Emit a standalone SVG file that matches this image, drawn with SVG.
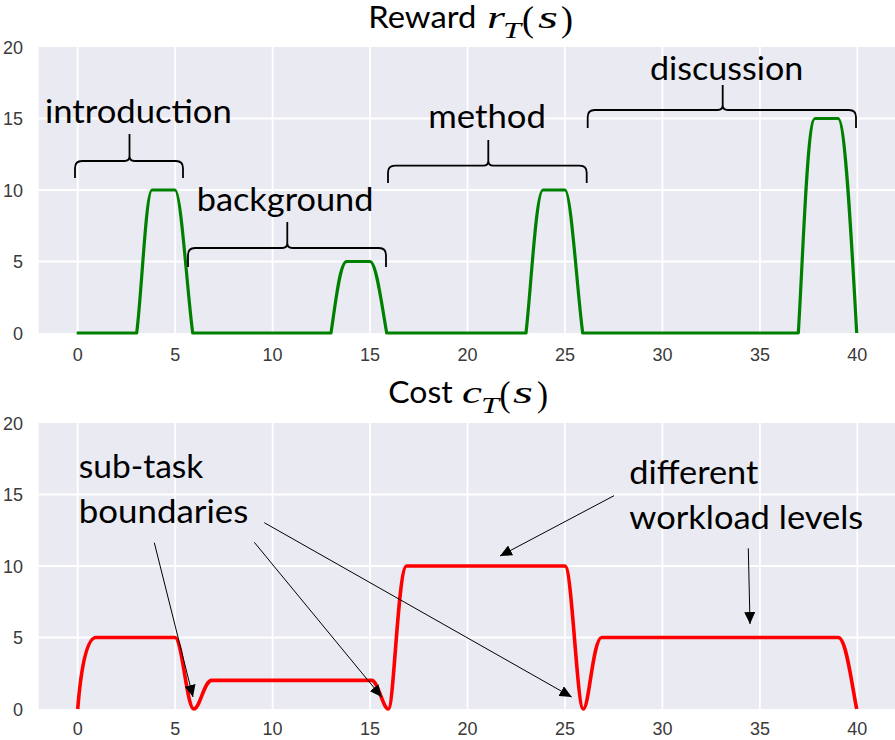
<svg xmlns="http://www.w3.org/2000/svg" width="895" height="740" viewBox="0 0 895 740">
<defs>
<style>
.bg{fill:#eaeaf2}
.grid line{stroke:#ffffff;stroke-width:1.8}
.tick{font-family:"Liberation Sans",Arial,sans-serif;font-size:18px;fill:#3a3a3a}
.ytick{text-anchor:end}
.xtick{text-anchor:middle}
.lbl{font-family:Lato,"Open Sans",sans-serif;font-size:33px;fill:#000}
.ttl{font-family:Lato,"Open Sans",sans-serif;font-size:30px;fill:#000}
.math{font-family:"Liberation Serif","Times New Roman",serif;font-style:italic;fill:#000}
.par{font-family:"Liberation Serif","Times New Roman",serif;fill:#000}
.brace{fill:none;stroke:#000;stroke-width:1.8}
.arrow{fill:none;stroke:#000;stroke-width:1}
.reward{fill:none;stroke:#008000;stroke-width:3.2;stroke-linejoin:round}
.cost{fill:none;stroke:#ff0000;stroke-width:3.6;stroke-linejoin:round}
</style>
<marker id="ah" markerUnits="userSpaceOnUse" markerWidth="13" markerHeight="11" refX="12" refY="5.5" orient="auto">
<path d="M0,0 L12,5.5 L0,11 z" fill="#000"/>
</marker>
</defs>
<rect width="895" height="740" fill="#ffffff"/>

<g id="reward-plot">
<rect class="bg" x="38.7" y="47" width="856.3" height="286"/>
<g class="grid">
<line x1="77.7" y1="47" x2="77.7" y2="333"/>
<line x1="175.2" y1="47" x2="175.2" y2="333"/>
<line x1="272.6" y1="47" x2="272.6" y2="333"/>
<line x1="370.1" y1="47" x2="370.1" y2="333"/>
<line x1="467.5" y1="47" x2="467.5" y2="333"/>
<line x1="565" y1="47" x2="565" y2="333"/>
<line x1="662.4" y1="47" x2="662.4" y2="333"/>
<line x1="759.9" y1="47" x2="759.9" y2="333"/>
<line x1="857.3" y1="47" x2="857.3" y2="333"/>
<line x1="38.7" y1="118.5" x2="895" y2="118.5"/>
<line x1="38.7" y1="190" x2="895" y2="190"/>
<line x1="38.7" y1="261.5" x2="895" y2="261.5"/>
</g>
<g class="tick ytick">
<text x="23" y="53.5">20</text>
<text x="23" y="125">15</text>
<text x="23" y="196.5">10</text>
<text x="23" y="268">5</text>
<text x="23" y="339.5">0</text>
</g>
<g class="tick xtick">
<text x="77.7" y="361">0</text>
<text x="175.2" y="361">5</text>
<text x="272.6" y="361">10</text>
<text x="370.1" y="361">15</text>
<text x="467.5" y="361">20</text>
<text x="565" y="361">25</text>
<text x="662.4" y="361">30</text>
<text x="759.9" y="361">35</text>
<text x="857.3" y="361">40</text>
</g>
<path class="reward" d="M76.7,333 L136.7,333 C142,290 146,190 152,190 L175,190 C181,190 187,290 192.7,333 L331,333 C336,300 340,261.5 346.7,261.5 L370,261.5 C376,261.5 381,300 386.7,333 L526,333 C531,290 536,190 543,190 L565,190 C571,190 577,290 582.7,333 L798.3,333 C803,260 807,118.5 815,118.5 L838,118.5 C845,118.5 851,230 856.7,333"/>
</g>

<g id="reward-title">
<text class="ttl" x="368.3" y="28.3" textLength="108" lengthAdjust="spacingAndGlyphs">Reward</text>
<text class="math" x="487" y="28.3" font-size="31" textLength="18" lengthAdjust="spacingAndGlyphs">r</text>
<text class="math" x="503" y="37.7" font-size="23" textLength="18" lengthAdjust="spacingAndGlyphs">T</text>
<text class="par" x="522" y="31" font-size="36" textLength="12" lengthAdjust="spacingAndGlyphs">(</text>
<text class="math" x="538" y="28.3" font-size="31" textLength="20" lengthAdjust="spacingAndGlyphs">s</text>
<text class="par" x="561" y="31" font-size="36" textLength="12" lengthAdjust="spacingAndGlyphs">)</text>
</g>

<g id="introduction">
<path class="brace" d="M75,178 L75,168 Q75,161 82,161 L124.5,161 Q129.5,161 129.5,156 L129.5,134 M129.5,156 Q129.5,161 134.5,161 L176,161 Q183,161 183,168 L183,178"/>
<text class="lbl" x="45" y="123.3" textLength="186.7" lengthAdjust="spacingAndGlyphs">introduction</text>
</g>
<g id="background">
<path class="brace" d="M188,267 L188,255 Q188,248 195,248 L282.3,248 Q287.3,248 287.3,243 L287.3,222 M287.3,243 Q287.3,248 292.3,248 L379,248 Q386,248 386,255 L386,267"/>
<text class="lbl" x="196.7" y="210.7" textLength="176.7" lengthAdjust="spacingAndGlyphs">background</text>
</g>
<g id="method">
<path class="brace" d="M388,183 L388,172.7 Q388,165.7 395,165.7 L483.3,165.7 Q488.3,165.7 488.3,160.7 L488.3,140 M488.3,160.7 Q488.3,165.7 493.3,165.7 L579.7,165.7 Q586.7,165.7 586.7,172.7 L586.7,183"/>
<text class="lbl" x="428.3" y="128.3" textLength="117.7" lengthAdjust="spacingAndGlyphs">method</text>
</g>
<g id="discussion">
<path class="brace" d="M587.7,128 L587.7,117 Q587.7,110 594.7,110 L717.7,110 Q722.7,110 722.7,105 L722.7,85 M722.7,105 Q722.7,110 727.7,110 L849,110 Q856,110 856,117 L856,128"/>
<text class="lbl" x="650" y="80" textLength="153.3" lengthAdjust="spacingAndGlyphs">discussion</text>
</g>

<g id="cost-plot">
<rect class="bg" x="38.7" y="423" width="856.3" height="286"/>
<g class="grid">
<line x1="77.7" y1="423" x2="77.7" y2="709"/>
<line x1="175.2" y1="423" x2="175.2" y2="709"/>
<line x1="272.6" y1="423" x2="272.6" y2="709"/>
<line x1="370.1" y1="423" x2="370.1" y2="709"/>
<line x1="467.5" y1="423" x2="467.5" y2="709"/>
<line x1="565" y1="423" x2="565" y2="709"/>
<line x1="662.4" y1="423" x2="662.4" y2="709"/>
<line x1="759.9" y1="423" x2="759.9" y2="709"/>
<line x1="857.3" y1="423" x2="857.3" y2="709"/>
<line x1="38.7" y1="494.5" x2="895" y2="494.5"/>
<line x1="38.7" y1="566" x2="895" y2="566"/>
<line x1="38.7" y1="637.5" x2="895" y2="637.5"/>
</g>
<g class="tick ytick">
<text x="23" y="429.5">20</text>
<text x="23" y="501">15</text>
<text x="23" y="572.5">10</text>
<text x="23" y="644">5</text>
<text x="23" y="715.5">0</text>
</g>
<g class="tick xtick">
<text x="77.7" y="735">0</text>
<text x="175.2" y="735">5</text>
<text x="272.6" y="735">10</text>
<text x="370.1" y="735">15</text>
<text x="467.5" y="735">20</text>
<text x="565" y="735">25</text>
<text x="662.4" y="735">30</text>
<text x="759.9" y="735">35</text>
<text x="857.3" y="735">40</text>
</g>
<path class="cost" d="M77.7,709 C80,680 85,637.5 96,637.5 L175,637.5 C182,637.5 187,709 193.8,709 C200,709 204,680.4 211.7,680.4 L371.7,680.4 C378,680.4 383,709 388.3,709 C394,709 398,566 406.7,566 L565,566 C572,566 577,709 583.3,709 C589,709 593,637.5 601.7,637.5 L838.3,637.5 C846,637.5 851,680 856.7,709"/>
</g>

<g id="cost-title">
<text class="ttl" x="388.3" y="403.3" textLength="64.4" lengthAdjust="spacingAndGlyphs">Cost</text>
<text class="math" x="462" y="403.3" font-size="31" textLength="20" lengthAdjust="spacingAndGlyphs">c</text>
<text class="math" x="481" y="413" font-size="23" textLength="18" lengthAdjust="spacingAndGlyphs">T</text>
<text class="par" x="499.5" y="406" font-size="36" textLength="11" lengthAdjust="spacingAndGlyphs">(</text>
<text class="math" x="513" y="403.3" font-size="31" textLength="20" lengthAdjust="spacingAndGlyphs">s</text>
<text class="par" x="537" y="406" font-size="36" textLength="11" lengthAdjust="spacingAndGlyphs">)</text>
</g>

<g id="subtask-label">
<text class="lbl" x="78.7" y="478.3" textLength="124.7" lengthAdjust="spacingAndGlyphs">sub-task</text>
<text class="lbl" x="78.7" y="523.3" textLength="169.7" lengthAdjust="spacingAndGlyphs">boundaries</text>
</g>
<g id="workload-label">
<text class="lbl" x="629.3" y="484.3" textLength="129" lengthAdjust="spacingAndGlyphs">different</text>
<text class="lbl" x="629.3" y="529.3" textLength="234" lengthAdjust="spacingAndGlyphs">workload levels</text>
</g>

<g id="connectors">
<line class="arrow" x1="154.3" y1="542.7" x2="193" y2="697" marker-end="url(#ah)"/>
<line class="arrow" x1="254.3" y1="542.3" x2="381.7" y2="697" marker-end="url(#ah)"/>
<line class="arrow" x1="264.3" y1="522.7" x2="571.7" y2="697" marker-end="url(#ah)"/>
<line class="arrow" x1="614" y1="495.7" x2="500" y2="556" marker-end="url(#ah)"/>
<line class="arrow" x1="748.3" y1="548.3" x2="750" y2="624" marker-end="url(#ah)"/>
</g>
</svg>
